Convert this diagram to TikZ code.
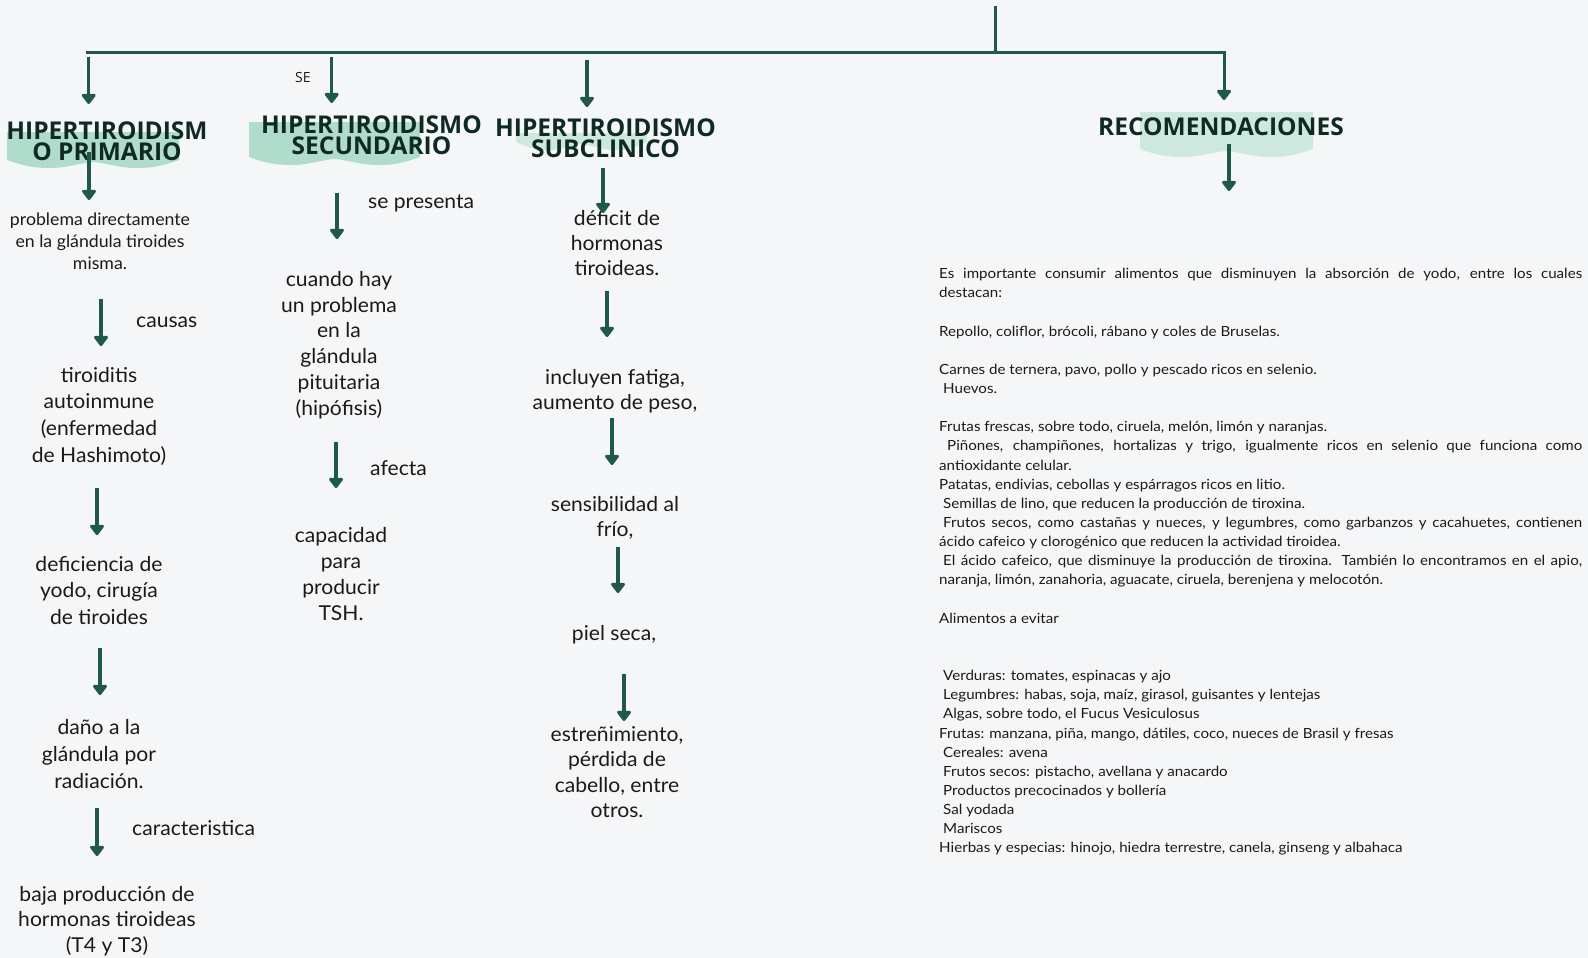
\documentclass[tikz,border=0pt]{standalone}
\usepackage{fontspec}
\setmainfont{Lato}[FakeStretch=1.03]
\newfontfamily\headf{Open Sans}
\newfontfamily\narrowf{Lato}[FakeStretch=1.08]
\usetikzlibrary{arrows.meta}
\definecolor{bg}{HTML}{F5F6F8}
\definecolor{arr}{HTML}{205849}
\definecolor{hl}{HTML}{B0DCCB}
\definecolor{hllight}{HTML}{CDE9DF}
\definecolor{txt}{HTML}{1A1A1A}
\definecolor{head}{HTML}{0F2A23}
\tikzset{
  flow/.style={line width=3.5pt, draw=arr, -{Triangle[width=16pt,length=11pt,round]}},
  trunk/.style={line width=3pt, draw=arr},
  body/.style={align=center, inner sep=0pt, text=txt, anchor=base, font=\fontsize{20.5}{25.6}\selectfont},
  small/.style={align=center, inner sep=0pt, text=txt, anchor=base, font=\fontsize{17.2}{22}\selectfont},
  lbl/.style={inner sep=0pt, text=txt, anchor=base west, font=\fontsize{20.5}{22}\selectfont},
  headbox/.style={align=center, inner sep=0pt, text=head, anchor=base, font=\headf\bfseries\fontsize{24.5}{20.8}\selectfont},
  recbox/.style={align=left, inner sep=0pt, text=txt, anchor=north west, font=\narrowf\fontsize{14}{19.14}\selectfont}
}
\newcommand\hlblob[5]{%
  \fill[#5] (#1,#3) -- (#2,#3) -- (#2,{#4-8})
    .. controls ({#2-0.1*(#2-#1)},{#4-2}) and ({#1+0.85*(#2-#1)},#4) .. ({#1+0.75*(#2-#1)},#4)
    .. controls ({#1+0.65*(#2-#1)},#4) and ({#1+0.55*(#2-#1)},{#4-6}) .. ({#1+0.5*(#2-#1)},{#4-6})
    .. controls ({#1+0.45*(#2-#1)},{#4-6}) and ({#1+0.35*(#2-#1)},#4) .. ({#1+0.25*(#2-#1)},#4)
    .. controls ({#1+0.15*(#2-#1)},#4) and ({#1+0.1*(#2-#1)},{#4-2}) .. (#1,{#4-8}) -- cycle;}
\newcommand\jl[1]{\makebox[643pt][s]{#1}}
\begin{document}
\begin{tikzpicture}[x=1pt,y=-1pt]
\useasboundingbox (0,0) rectangle (1588,958);
\fill[bg] (0,0) rectangle (1588,958);

% highlights
\hlblob{7}{179}{132}{168}{hl}
\hlblob{249}{420}{122}{165}{hl}
\hlblob{516}{647}{133}{150}{hllight}
\hlblob{1140}{1313}{112}{157}{hllight}

% headers (base = last line)
\node[headbox] (h1) at (107,160) {HIPERTIROIDISM\\O PRIMARIO};
\node[headbox] (h2) at (371.5,154) {HIPERTIROIDISMO\\SECUNDARIO};
\node[headbox] (h3) at (605.5,157) {HIPERTIROIDISMO\\SUBCLINICO};
\node[headbox] (h4) at (1221,135) {RECOMENDACIONES};
\node[inner sep=0pt, anchor=base west, text=txt, font=\headf\fontsize{14}{16}\selectfont] (se) at (295,83) {SE};

% trunk
\coordinate (top) at (995,6);
\coordinate (tj) at (995,53);
\coordinate (tl) at (86,53);
\coordinate (a4e) at (1224,100);
\draw[trunk] (top) -- (tj);
\draw[flow, line width=3pt] (tl) -| (a4e);
\coordinate (a1s) at (88.7,57);   \coordinate (a1e) at (88.7,104);
\coordinate (a2s) at (331.7,57);  \coordinate (a2e) at (331.7,103);
\coordinate (a3s) at (587,60);    \coordinate (a3e) at (587,107);
\draw[flow] (a1s) -- (a1e);
\draw[flow] (a2s) -- (a2e);
\draw[flow] (a3s) -- (a3e);

% column 1 (base = last line)
\node[small] (p1) at (100,269) {problema directamente\\en la glándula tiroides\\misma.};
\node[body, font=\fontsize{20.5}{26.8}\selectfont] (p2) at (99,462.4) {tiroiditis\\autoinmune\\(enfermedad\\de Hashimoto)};
\node[body, font=\fontsize{20.5}{26.8}\selectfont] (p3) at (99,624.6) {deficiencia de\\yodo, cirugía\\de tiroides};
\node[body, font=\fontsize{20.5}{27}\selectfont] (p4) at (99,788) {daño a la\\glándula por\\radiación.};
\node[body, font=\fontsize{20.5}{25.5}\selectfont] (p5) at (107,952) {baja producción de\\hormonas tiroideas\\(T4 y T3)};
\node[lbl] (l1) at (136,327) {causas};
\node[lbl] (l2) at (132,835) {caracteristica};
\coordinate (c1s) at (89,152);  \coordinate (c1e) at (89,200);
\coordinate (c2s) at (101,299); \coordinate (c2e) at (101,346);
\coordinate (c3s) at (97,488);  \coordinate (c3e) at (97,535);
\coordinate (c4s) at (100,648); \coordinate (c4e) at (100,695);
\coordinate (c5s) at (97,808);  \coordinate (c5e) at (97,856);
\foreach \i in {1,...,5} {\draw[flow] (c\i s) -- (c\i e);}

% column 2
\node[body, font=\fontsize{20.5}{25.7}\selectfont] (q1) at (339,415) {cuando hay\\un problema\\en la\\glándula\\pituitaria\\(hipófisis)};
\node[body, font=\fontsize{20.5}{25.7}\selectfont] (q2) at (341,620) {capacidad\\para\\producir\\TSH.};
\node[lbl] (l3) at (368,208) {se presenta};
\node[lbl] (l4) at (370,475) {afecta};
\coordinate (d1s) at (337,193);   \coordinate (d1e) at (337,239);
\coordinate (d2s) at (336,441.5); \coordinate (d2e) at (336,488);
\draw[flow] (d1s) -- (d1e);
\draw[flow] (d2s) -- (d2e);

% column 3
\node[body, font=\fontsize{20.5}{25.3}\selectfont] (r1) at (617,275.6) {déficit de\\hormonas\\tiroideas.};
\node[body, font=\fontsize{20.5}{25.3}\selectfont] (r2) at (615,409.3) {incluyen fatiga,\\aumento de peso,};
\node[body, font=\fontsize{20.5}{25.3}\selectfont] (r3) at (615,536.3) {sensibilidad al\\frío,};
\node[body] (r4) at (614,640) {piel seca,};
\node[body, font=\fontsize{20.5}{25.6}\selectfont] (r5) at (617,817.8) {estreñimiento,\\pérdida de\\cabello, entre\\otros.};
\coordinate (e1s) at (603,168);   \coordinate (e1e) at (603,213);
\coordinate (e2s) at (607,291);   \coordinate (e2e) at (607,337);
\coordinate (e3s) at (612,418);   \coordinate (e3e) at (612,465);
\coordinate (e4s) at (618,547);   \coordinate (e4e) at (618,593);
\coordinate (e5s) at (624,673.5); \coordinate (e5e) at (624,721);
\foreach \i in {1,...,5} {\draw[flow] (e\i s) -- (e\i e);}

% recommendations
\coordinate (f1s) at (1229,144); \coordinate (f1e) at (1229,191);
\draw[flow] (f1s) -- (f1e);
\node[recbox] (rec) at (939,266.5) {%
\jl{\rule{0pt}{12pt}Es importante consumir alimentos que disminuyen la absorción de yodo, entre los cuales}\\
destacan:\\
\mbox{}\\
Repollo, coliflor, brócoli, rábano y coles de Bruselas.\\
\mbox{}\\
Carnes de ternera, pavo, pollo y pescado ricos en selenio.\\
\hspace*{4pt}Huevos.\\
\mbox{}\\
Frutas frescas, sobre todo, ciruela, melón, limón y naranjas.\\
\jl{\hspace*{8pt}Piñones, champiñones, hortalizas y trigo, igualmente ricos en selenio que funciona como}\\
antioxidante celular.\\
Patatas, endivias, cebollas y espárragos ricos en litio.\\
\hspace*{4pt}Semillas de lino, que reducen la producción de tiroxina.\\
\jl{\hspace*{4pt}Frutos secos, como castañas y nueces, y legumbres, como garbanzos y cacahuetes, contienen}\\
ácido cafeico y clorogénico que reducen la actividad tiroidea.\\
\jl{\hspace*{4pt}El ácido cafeico, que disminuye la producción de tiroxina. También lo encontramos en el apio,}\\
naranja, limón, zanahoria, aguacate, ciruela, berenjena y melocotón.\\
\mbox{}\\
Alimentos a evitar\\
\mbox{}\\
\mbox{}\\
\hspace*{4pt}Verduras: tomates, espinacas y ajo\\
\hspace*{4pt}Legumbres: habas, soja, maíz, girasol, guisantes y lentejas\\
\hspace*{4pt}Algas, sobre todo, el Fucus Vesiculosus\\
Frutas: manzana, piña, mango, dátiles, coco, nueces de Brasil y fresas\\
\hspace*{4pt}Cereales: avena\\
\hspace*{4pt}Frutos secos: pistacho, avellana y anacardo\\
\hspace*{4pt}Productos precocinados y bollería\\
\hspace*{4pt}Sal yodada\\
\hspace*{4pt}Mariscos\\
Hierbas y especias: hinojo, hiedra terrestre, canela, ginseng y albahaca};
\end{tikzpicture}
\end{document}
